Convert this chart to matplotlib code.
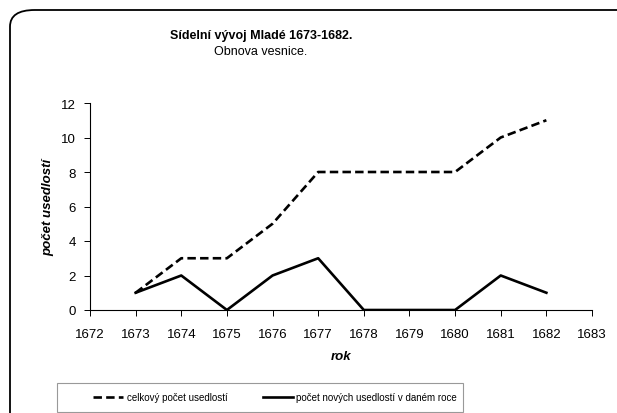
import matplotlib.pyplot as plt
from matplotlib.patches import FancyBboxPatch, Rectangle

years = [1673, 1674, 1675, 1676, 1677, 1678, 1679, 1680, 1681, 1682]
total_farms = [1, 3, 3, 5, 8, 8, 8, 8, 10, 11]
new_farms = [1, 2, 0, 2, 3, 0, 0, 0, 2, 1]

TITLE = 'Sídelní vývoj Mladé 1673-1682.'
SUBTITLE = 'Obnova vesnice.'
LABEL_TOTAL = 'celkový počet usedlostí'
LABEL_NEW = 'počet nových usedlostí v daném roce'

W, H = 617, 414
plt.rcParams['font.family'] = ['Liberation Sans', 'DejaVu Sans']

fig = plt.figure(figsize=(W / 100, H / 100), dpi=100)

# rounded outer frame, cut off on the right and bottom
frame = FancyBboxPatch((10 / W, -25 / H), 640 / W, 428 / H,
                       boxstyle='round,pad=0,rounding_size=0.04',
                       transform=fig.transFigure, fill=False,
                       edgecolor='black', linewidth=1.3, clip_on=False)
fig.patches.append(frame)

ax = fig.add_axes([90 / W, (H - 311) / H, 502 / W, 207 / H])
ax.plot(years, total_farms, color='black', linewidth=1.9, linestyle=(0, (3.2, 1.6)),
        label=LABEL_TOTAL)
ax.plot(years, new_farms, color='black', linewidth=1.9, label=LABEL_NEW)

ax.set_xlim(1672, 1683)
ax.set_ylim(0, 12)
ax.set_xticks(range(1672, 1684))
ax.set_yticks(range(0, 13, 2))
ax.spines['top'].set_visible(False)
ax.spines['right'].set_visible(False)
for side in ('left', 'bottom'):
    ax.spines[side].set_linewidth(0.8)
ax.tick_params(direction='out', length=4, width=0.7, labelsize=9.5)
ax.tick_params(axis='x', pad=9)
ax.tick_params(axis='y', pad=6)

ax.set_xlabel('rok', fontsize=9.5, fontweight='bold', fontstyle='italic', labelpad=7)
ax.set_ylabel('počet usedlostí', fontsize=9.5, fontweight='bold', fontstyle='italic', labelpad=5)

fig.text(261 / W, 1 - 36 / H, TITLE, ha='center', va='center',
         fontsize=9, fontweight='bold')
fig.text(261 / W, 1 - 52 / H, SUBTITLE, ha='center', va='center', fontsize=9)

# legend box drawn separately, entries placed inside it
fig.patches.append(Rectangle((57 / W, (H - 413) / H), 406 / W, 29 / H,
                             transform=fig.transFigure, fill=False,
                             edgecolor='#999999', linewidth=0.8))
fig.legend(loc='center', bbox_to_anchor=(275 / W, 1 - 398 / H), ncol=2,
           fontsize=7, frameon=False, handlelength=3.1,
           columnspacing=3.6, handletextpad=0.35)

fig.savefig('out.png', dpi=100)
